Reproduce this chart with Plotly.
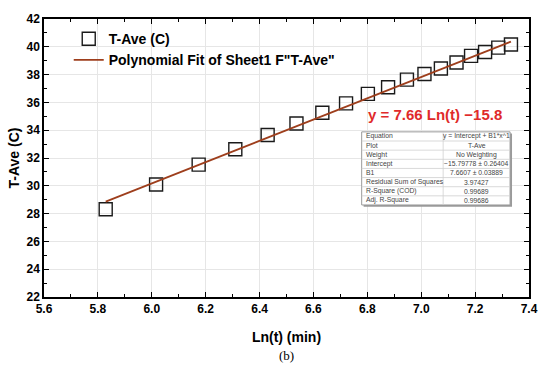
import plotly.graph_objects as go

# ---- data ----
ln_t = [5.829, 6.016, 6.174, 6.310, 6.430, 6.537, 6.633, 6.721, 6.802,
        6.877, 6.947, 7.012, 7.073, 7.131, 7.185, 7.237, 7.286, 7.333]
t_ave = [28.31, 30.09, 31.52, 32.63, 33.65, 34.48, 35.26, 35.93, 36.61,
         37.09, 37.64, 38.04, 38.44, 38.87, 39.35, 39.63, 39.94, 40.17]

fit_intercept = -15.79778
fit_slope = 7.6607
fit_x = [ln_t[0], ln_t[-1]]
fit_y = [fit_intercept + fit_slope * v for v in fit_x]

x_ticks = [5.6, 5.8, 6.0, 6.2, 6.4, 6.6, 6.8, 7.0, 7.2, 7.4]
y_ticks = [22, 24, 26, 28, 30, 32, 34, 36, 38, 40, 42]

table_labels = ["Equation", "Plot", "Weight", "Intercept", "B1",
                "Residual Sum of Squares", "R-Square (COD)", "Adj. R-Square"]
table_values = ["y = Intercept + B1*x^1", "T-Ave", "No Weighting",
                "\u221215.79778 \u00b1 0.26404", "7.6607 \u00b1 0.03889",
                "3.97427", "0.99689", "0.99686"]

FONT = "Liberation Sans, Arial, sans-serif"

fig = go.Figure()

fig.add_trace(go.Scatter(
    x=ln_t, y=t_ave, mode="markers", name="T-Ave (C)",
    marker=dict(symbol="square-open", size=13, color="#1a1a1a",
                line=dict(width=1.4, color="#1a1a1a")),
))
fig.add_trace(go.Scatter(
    x=fit_x, y=fit_y, mode="lines",
    name="Polynomial Fit of Sheet1 F\"T-Ave\"",
    line=dict(color="#9e3e1c", width=1.8),
))

axis_common = dict(
    showline=True, linecolor="black", linewidth=1.5, mirror="allticks",
    ticks="inside", ticklen=5, tickwidth=1.3, tickcolor="black",
    showgrid=True, gridcolor="#e6e6e6", gridwidth=1, zeroline=False,
    tickfont=dict(family=FONT, size=12, color="black", weight="bold"),
)

fig.update_xaxes(
    range=[5.6, 7.4], tickvals=x_ticks,
    ticktext=[f"{v:.1f}" for v in x_ticks],
    minor=dict(dtick=0.1, ticks="inside", ticklen=3, tickcolor="black",
               tickwidth=1.2, showgrid=False),
    title=dict(text="Ln(t) (min)", standoff=17,
               font=dict(family=FONT, size=14, color="black", weight="bold")),
    **axis_common,
)
fig.update_yaxes(
    range=[22, 42], tickvals=y_ticks,
    minor=dict(dtick=1, ticks="inside", ticklen=3, tickcolor="black",
               tickwidth=1.2, showgrid=False),
    title=dict(text="T-Ave (C)", standoff=4,
               font=dict(family=FONT, size=14, color="black", weight="bold")),
    **axis_common,
)

# ---- fit-result table (drawn with shapes + text) ----
tx0, tx1, tdiv = 0.655, 0.961, 0.823
ttop, tbot = 0.594, 0.331
n_rows = len(table_labels)
row_h = (ttop - tbot) / n_rows
# shadow
fig.add_shape(type="rect", xref="paper", yref="paper",
              x0=tx0 + 0.004, x1=tx1 + 0.004, y0=tbot - 0.006, y1=ttop - 0.006,
              fillcolor="#9a9a9a", line=dict(width=0), layer="above")
fig.add_shape(type="rect", xref="paper", yref="paper",
              x0=tx0, x1=tx1, y0=tbot, y1=ttop,
              fillcolor="white", line=dict(color="#9a9a9a", width=1), layer="above")
for i in range(1, n_rows):
    yy = ttop - i * row_h
    fig.add_shape(type="line", xref="paper", yref="paper",
                  x0=tx0, x1=tx1, y0=yy, y1=yy,
                  line=dict(color="#cfcfcf", width=0.8), layer="above")
fig.add_shape(type="line", xref="paper", yref="paper",
              x0=tdiv, x1=tdiv, y0=tbot, y1=ttop,
              line=dict(color="#cfcfcf", width=0.8), layer="above")
for i, (lab, val) in enumerate(zip(table_labels, table_values)):
    yc = ttop - (i + 0.5) * row_h
    fig.add_annotation(x=tx0 + 0.005, y=yc, xref="paper", yref="paper",
                       xanchor="left", yanchor="middle", showarrow=False,
                       text=lab, font=dict(family=FONT, size=6.8, color="#444444"))
    fig.add_annotation(x=(tdiv + tx1) / 2, y=yc, xref="paper", yref="paper",
                       xanchor="center", yanchor="middle", showarrow=False,
                       text=val, font=dict(family=FONT, size=6.8, color="#444444"))

fig.add_annotation(
    x=7.05, y=35.1, xref="x", yref="y", showarrow=False,
    text="y = 7.66 Ln(t) \u221215.8",
    font=dict(family=FONT, size=15, color="#e02a2a", weight="bold"),
)
fig.add_annotation(
    x=0.5, y=-0.245, xref="paper", yref="paper", showarrow=False,
    text="(b)", font=dict(family="Liberation Serif, Times New Roman, serif",
                          size=13, color="black"),
)

fig.update_layout(
    width=550, height=381,
    margin=dict(l=44, r=15, t=16, b=84),
    paper_bgcolor="white", plot_bgcolor="white",
    showlegend=True,
    legend=dict(x=0.051, y=0.985, xanchor="left", yanchor="top",
                bgcolor="rgba(0,0,0,0)", tracegroupgap=0,
                font=dict(family=FONT, size=14, color="black", weight="bold")),
)

fig.write_html("out.html", config={"displayModeBar": False},
               post_script="document.body.style.margin='0';document.body.style.overflow='hidden';")
